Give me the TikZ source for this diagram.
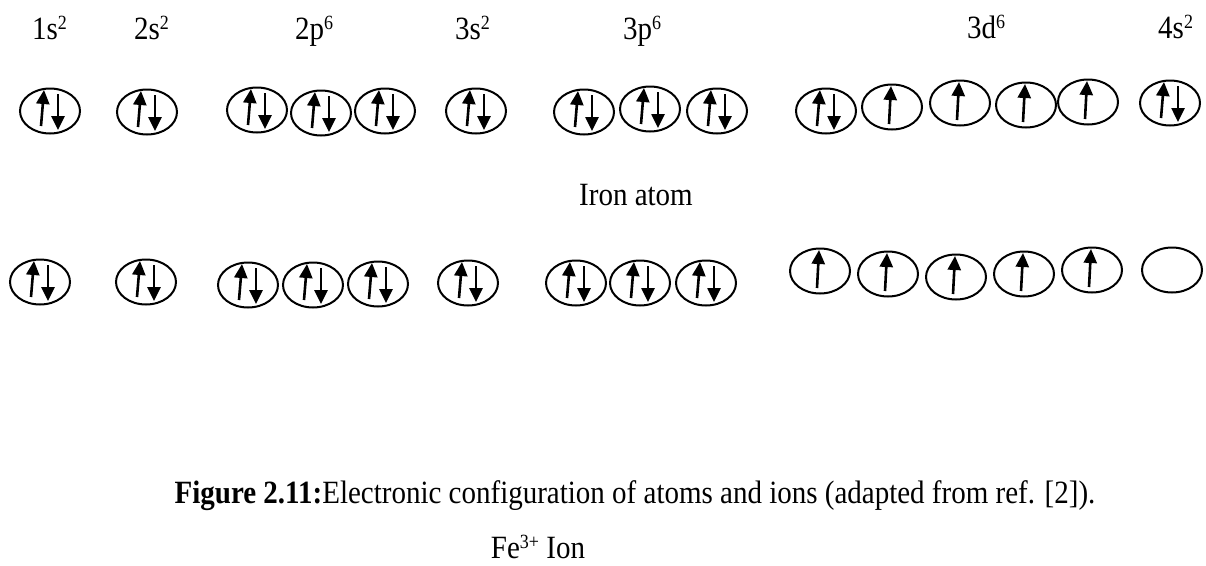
\documentclass[tikz,border=0pt]{standalone}
\usepackage{graphicx}
\usepackage{fontspec}
\setmainfont{Liberation Serif}
\usetikzlibrary{shapes.geometric,arrows.meta}
\newcommand\sups[1]{\raisebox{0.3em}{\fontsize{18}{18}\selectfont #1}}
\newcommand\tallx[1]{\scalebox{1}[1.12]{#1}}
\begin{document}
\begin{tikzpicture}[x=1pt,y=-1pt,
  orb/.style={draw,ellipse,line width=2pt,minimum width=60pt,minimum height=45pt,inner sep=0pt},
  spin/.style={line width=2.6pt,-{Triangle[width=13pt,length=14pt]}},
  lbl/.style={inner sep=0pt,font=\fontsize{29}{34}\selectfont}]
\useasboundingbox (0,0) rectangle (1206,565);
% labels
\node[lbl,anchor=base west] (l1) at (32,39) {\tallx{1s\sups{2}}};
\node[lbl,anchor=base west] (l2) at (134,39) {\tallx{2s\sups{2}}};
\node[lbl,anchor=base west] (l3) at (295,39) {\tallx{2p\sups{6}}};
\node[lbl,anchor=base west] (l4) at (455,39) {\tallx{3s\sups{2}}};
\node[lbl,anchor=base west] (l5) at (623,39) {\tallx{3p\sups{6}}};
\node[lbl,anchor=base west] (l6) at (967,38) {\tallx{3d\sups{6}}};
\node[lbl,anchor=base west] (l7) at (1158,38) {\tallx{4s\sups{2}}};
\node[lbl,anchor=base] (iron) at (636,205) {\tallx{Iron atom}};
\node[lbl,anchor=base] (cap) at (635,503) {\tallx{{\bfseries Figure 2.11:}Electronic configuration of atoms and ions (adapted from ref. [2]).}};
\node[lbl,anchor=base] (ion) at (538,558) {\tallx{Fe\sups{3+} Ion}};
% orbitals
\foreach \n/\x/\y/\t in {
  a1/50/111/2, a2/147/112/2, a3/257/110/2, a4/321/113/2, a5/385/111/2,
  a6/476/111/2, a7/584/112/2, a8/650/109/2, a9/717/111/2,
  a10/826/111/2, a11/892/107/1, a12/960/103/1, a13/1026/105/1, a14/1088/102/1,
  a15/1170/103/2,
  b1/40/282/2, b2/146/282/2, b3/248/285/2, b4/313/285/2, b5/378/284/2,
  b6/468/283/2, b7/576/283/2, b8/640/283/2, b9/706/283/2,
  b10/820/271/1, b11/888/274/1, b12/956/277/1, b13/1024/274/1, b14/1092/270/1,
  b15/1172/270/0}{
  \node[orb] (\n) at (\x,\y) {};
  \ifcase\t\or
    \draw[spin] ([shift={(-3,17)}]\n.center) -- ([shift={(-1,-21)}]\n.center);
  \or
    \draw[spin] ([shift={(-9,15)}]\n.center) -- ([shift={(-6,-21)}]\n.center);
    \draw[spin] ([shift={(8,-17)}]\n.center) -- ([shift={(8,19)}]\n.center);
  \fi
}
\end{tikzpicture}
\end{document}
